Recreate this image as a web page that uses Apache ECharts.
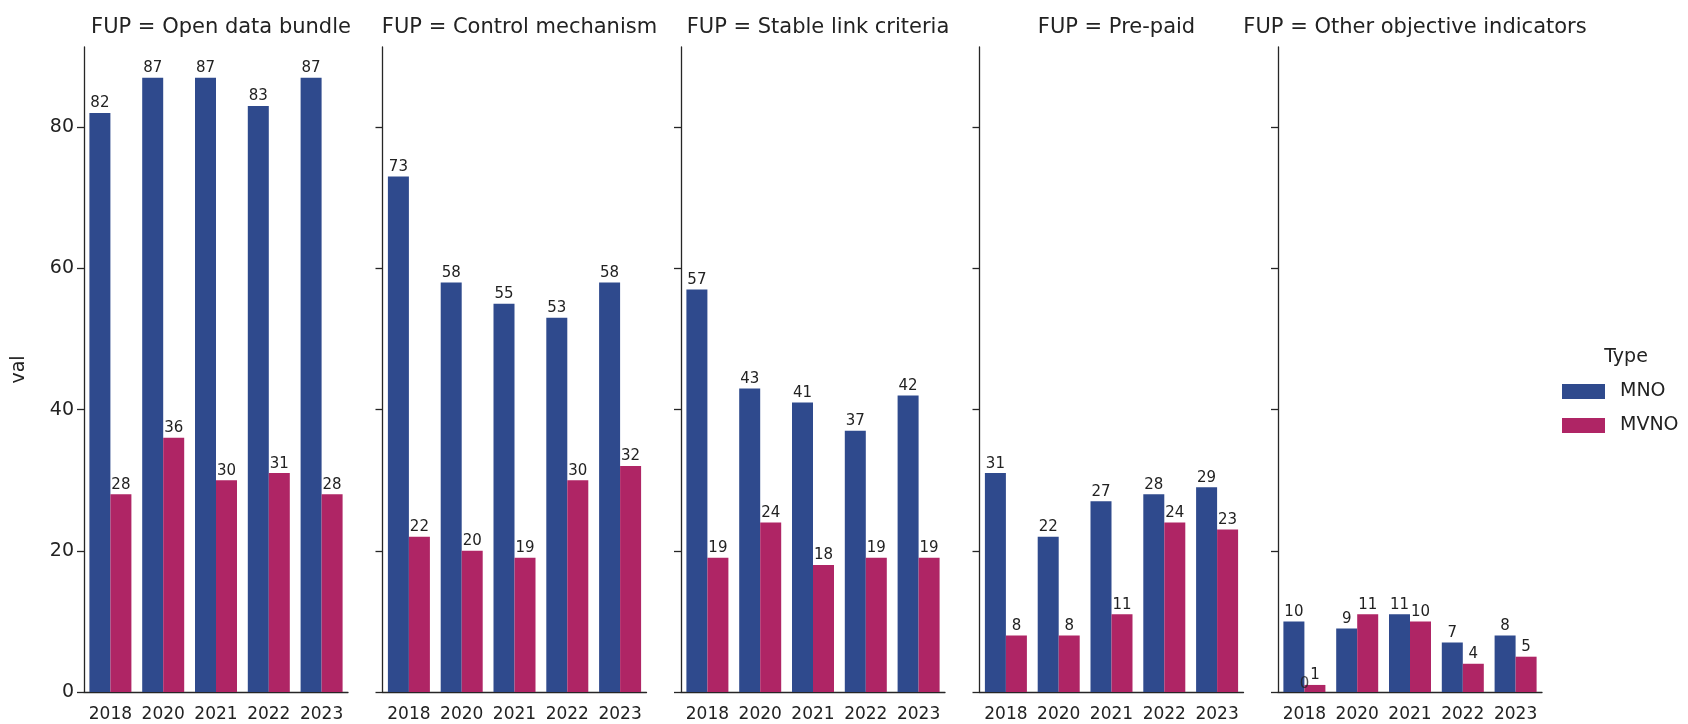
<!DOCTYPE html>
<html>
<head>
<meta charset="utf-8">
<script src="https://cdn.jsdelivr.net/npm/echarts@6/dist/echarts.min.js"></script>
<style>
    html, body { margin: 0; padding: 0; background: #fff; }
    #chart { width: 1688px; height: 724px; }
</style>
</head>
<body>
<div id="chart"></div>
<script>
// data
const years = ['2018', '2020', '2021', '2022', '2023']
const panels = ['Open data bundle', 'Control mechanism', 'Stable link criteria', 'Pre-paid', 'Other objective indicators']
const mnoValues = [
    [82, 87, 87, 83, 87],
    [73, 58, 55, 53, 58],
    [57, 43, 41, 37, 42],
    [31, 22, 27, 28, 29],
    [10, 9, 11, 7, 8]
]
const mvnoValues = [
    [28, 36, 30, 31, 28],
    [22, 20, 19, 30, 32],
    [19, 24, 18, 19, 19],
    [8, 8, 11, 24, 23],
    [1, 11, 10, 4, 5]
]
// stray "0" label in the last panel (zero-height bar in the original)
const extraZeroLabels = [0, '-', '-', '-', '-']
const yTicks = [0, 20, 40, 60, 80]
const yMax = 91.35

const MNO_COLOR = '#2f4a8d'
const MVNO_COLOR = '#af2565'
const FONT = 'DejaVu Sans'
const AXIS_COLOR = '#262626'

// layout
const PANEL_LEFT = 84
const PANEL_STEP = 298.5
const PANEL_W = 264
const GRID_TOP = 47
const GRID_BOTTOM = 32

let grids = []
let xAxes = []
let yAxes = []
let series = []
let titles = []

panels.forEach((name, i) => {
    let left = PANEL_LEFT + i * PANEL_STEP
    grids.push({
        left: left,
        width: PANEL_W,
        top: GRID_TOP,
        bottom: GRID_BOTTOM,
        containLabel: false
    })

    titles.push({
        text: 'FUP = ' + name,
        left: left + PANEL_W / 2,
        top: 12,
        textAlign: 'center',
        textStyle: { fontFamily: FONT, fontSize: 21, fontWeight: 'normal', color: '#222' }
    })

    xAxes.push({
        type: 'category',
        gridIndex: i,
        data: years,
        boundaryGap: true,
        axisLine: { lineStyle: { color: AXIS_COLOR, width: 1.3 } },
        axisTick: { alignWithLabel: true, interval: 0, length: 7, lineStyle: { color: AXIS_COLOR, width: 1.3 } },
        axisLabel: { interval: 0, fontFamily: FONT, fontSize: 17, color: '#222', margin: 14 },
        splitLine: { show: false }
    })

    yAxes.push({
        type: 'value',
        gridIndex: i,
        min: 0,
        max: yMax,
        name: i === 0 ? 'val' : '',
        nameLocation: 'middle',
        nameGap: 55,
        nameTextStyle: { fontFamily: FONT, fontSize: 19, color: '#222' },
        axisLine: { show: true, lineStyle: { color: AXIS_COLOR, width: 1.3 } },
        axisTick: { show: true, length: 7, customValues: yTicks, lineStyle: { color: AXIS_COLOR, width: 1.3 } },
        axisLabel: { show: i === 0, customValues: yTicks, fontFamily: FONT, fontSize: 19, color: '#222', margin: 10 },
        splitLine: { show: false }
    })

    let labelStyle = {
        show: true,
        position: 'top',
        distance: 2,
        fontFamily: FONT,
        fontSize: 15,
        color: '#222'
    }

    series.push({
        name: 'MNO',
        type: 'bar',
        xAxisIndex: i,
        yAxisIndex: i,
        data: mnoValues[i],
        barWidth: 21,
        barGap: '0%',
        itemStyle: { color: MNO_COLOR },
        label: labelStyle
    })
    series.push({
        name: 'MVNO',
        type: 'bar',
        xAxisIndex: i,
        yAxisIndex: i,
        data: mvnoValues[i],
        barWidth: 21,
        barGap: '0%',
        itemStyle: { color: MVNO_COLOR },
        label: labelStyle
    })
})

// last panel: lone "0" label centred on 2018
series.push({
    name: 'zero',
    type: 'scatter',
    xAxisIndex: 4,
    yAxisIndex: 4,
    data: extraZeroLabels,
    symbolSize: 0,
    silent: true,
    label: {
        show: true,
        position: 'top',
        distance: 0,
        formatter: '{c}',
        fontFamily: FONT,
        fontSize: 15,
        color: '#222'
    }
})

titles.push({
    text: 'Type',
    left: 1621,
    top: 343,
    textAlign: 'center',
    textStyle: { fontFamily: FONT, fontSize: 19, fontWeight: 'normal', color: '#222' }
})

let option = {
    animation: false,
    backgroundColor: '#fff',
    title: titles,
    grid: grids,
    xAxis: xAxes,
    yAxis: yAxes,
    legend: {
        data: ['MNO', 'MVNO'],
        orient: 'vertical',
        left: 1557,
        top: 377,
        itemWidth: 43,
        itemHeight: 15,
        itemGap: 15,
        icon: 'rect',
        selectedMode: false,
        textStyle: { fontFamily: FONT, fontSize: 19, color: '#222', padding: [0, 0, 0, 10] }
    },
    series: series
}

let myChart = echarts.init(document.getElementById('chart'))
myChart.setOption(option)
</script>
</body>
</html>
